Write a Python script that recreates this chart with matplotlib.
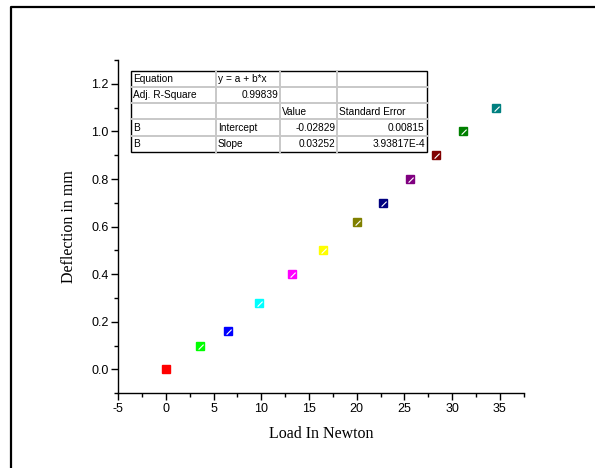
import matplotlib
matplotlib.use("Agg")
import matplotlib.pyplot as plt
from matplotlib.lines import Line2D
from matplotlib.path import Path
from matplotlib.ticker import MultipleLocator, FormatStrFormatter

plt.rcParams["axes.unicode_minus"] = False

# data
load_n = [0, 3.6, 6.5, 9.8, 13.2, 16.5, 20.0, 22.8, 25.6, 28.3, 31.1, 34.6]
deflection_mm = [0.0, 0.10, 0.16, 0.28, 0.40, 0.50, 0.62, 0.70, 0.80, 0.90, 1.00, 1.10]
point_colors = ["#ff0000", "#00ff00", "#0000ff", "#00ffff", "#ff00ff", "#ffff00",
                "#808000", "#000080", "#800080", "#800000", "#008000", "#008080"]

fit_rows = [
    ["Equation", "y = a + b*x", "", ""],
    ["Adj. R-Square", "0.99839", "", ""],
    ["", "", "Value", "Standard Error"],
    ["B", "Intercept", "-0.02829", "0.00815"],
    ["B", "Slope", "0.03252", "3.93817E-4"],
]

fig = plt.figure(figsize=(5.95, 4.68), dpi=100)
ax = fig.add_axes([0.1988, 0.1596, 0.6812, 0.7122])

slash = Path([(-0.3, -0.5), (0.5, 0.3)], [Path.MOVETO, Path.LINETO])
for k, (x, y, c) in enumerate(zip(load_n, deflection_mm, point_colors)):
    ax.plot(x, y, marker="s", ms=5.8, color=c, mec=c, ls="none")
    if k > 0:
        ax.plot(x, y, marker=slash, ms=4.5, mec="white", mew=0.8, ls="none")

ax.set_xlim(-5, 37.5)
ax.set_ylim(-0.1, 1.3)
ax.xaxis.set_major_locator(MultipleLocator(5))
ax.xaxis.set_minor_locator(MultipleLocator(2.5))
ax.yaxis.set_major_locator(MultipleLocator(0.2))
ax.yaxis.set_minor_locator(MultipleLocator(0.1))
ax.spines["top"].set_visible(False)
ax.spines["right"].set_visible(False)
for s in ("left", "bottom"):
    ax.spines[s].set_linewidth(1.0)
ax.tick_params(which="major", direction="out", length=5, width=1.0,
               labelsize=9, pad=2)
ax.tick_params(which="minor", direction="out", length=3, width=1.0)
ax.yaxis.set_major_formatter(FormatStrFormatter("%.1f"))
for lab in ax.get_xticklabels() + ax.get_yticklabels():
    lab.set_family("Liberation Sans")

ax.set_xlabel("Load In Newton", family="Liberation Serif", fontsize=11.5, labelpad=8)
ax.set_ylabel("Deflection in mm", family="Liberation Serif", fontsize=11.5, labelpad=10)

# fit result table
col_px = [131.3, 216, 280, 337.3, 426.7]
top_px, row_h = 70.7, 16.2
W, H = 595.0, 468.0
for i, row in enumerate(fit_rows):
    y0 = top_px + i * row_h
    for j, txt in enumerate(row):
        if not txt:
            continue
        right = (i == 1 and j == 1) or (i >= 3 and j >= 2)
        if right:
            xt, ha = col_px[j + 1] - 2, "right"
        else:
            xt, ha = col_px[j] + 2, "left"
        fig.text(xt / W, 1 - (y0 + row_h / 2 + 0.5) / H, txt, ha=ha, va="center",
                 fontsize=7.3, family="Liberation Sans")
grey = "#c8c8c8"
for i in range(1, len(fit_rows)):
    y = 1 - (top_px + i * row_h) / H
    fig.add_artist(Line2D([col_px[0] / W, col_px[-1] / W], [y, y], color=grey, lw=1.4))
for xc in col_px[1:-1]:
    fig.add_artist(Line2D([xc / W, xc / W], [1 - top_px / H, 1 - (top_px + 5 * row_h) / H],
                          color=grey, lw=1.4))
fig.add_artist(plt.Rectangle((col_px[0] / W, 1 - (top_px + 5 * row_h) / H),
                             (col_px[-1] - col_px[0]) / W, 5 * row_h / H,
                             fill=False, ec="black", lw=1.0))

# page frame (only left and top edges fall inside the picture)
fig.add_artist(Line2D([10.5 / W, 10.5 / W, 1.0], [0.0, 1 - 7 / H, 1 - 7 / H],
                      color="black", lw=1.6))

fig.savefig("out.png", dpi=100)
